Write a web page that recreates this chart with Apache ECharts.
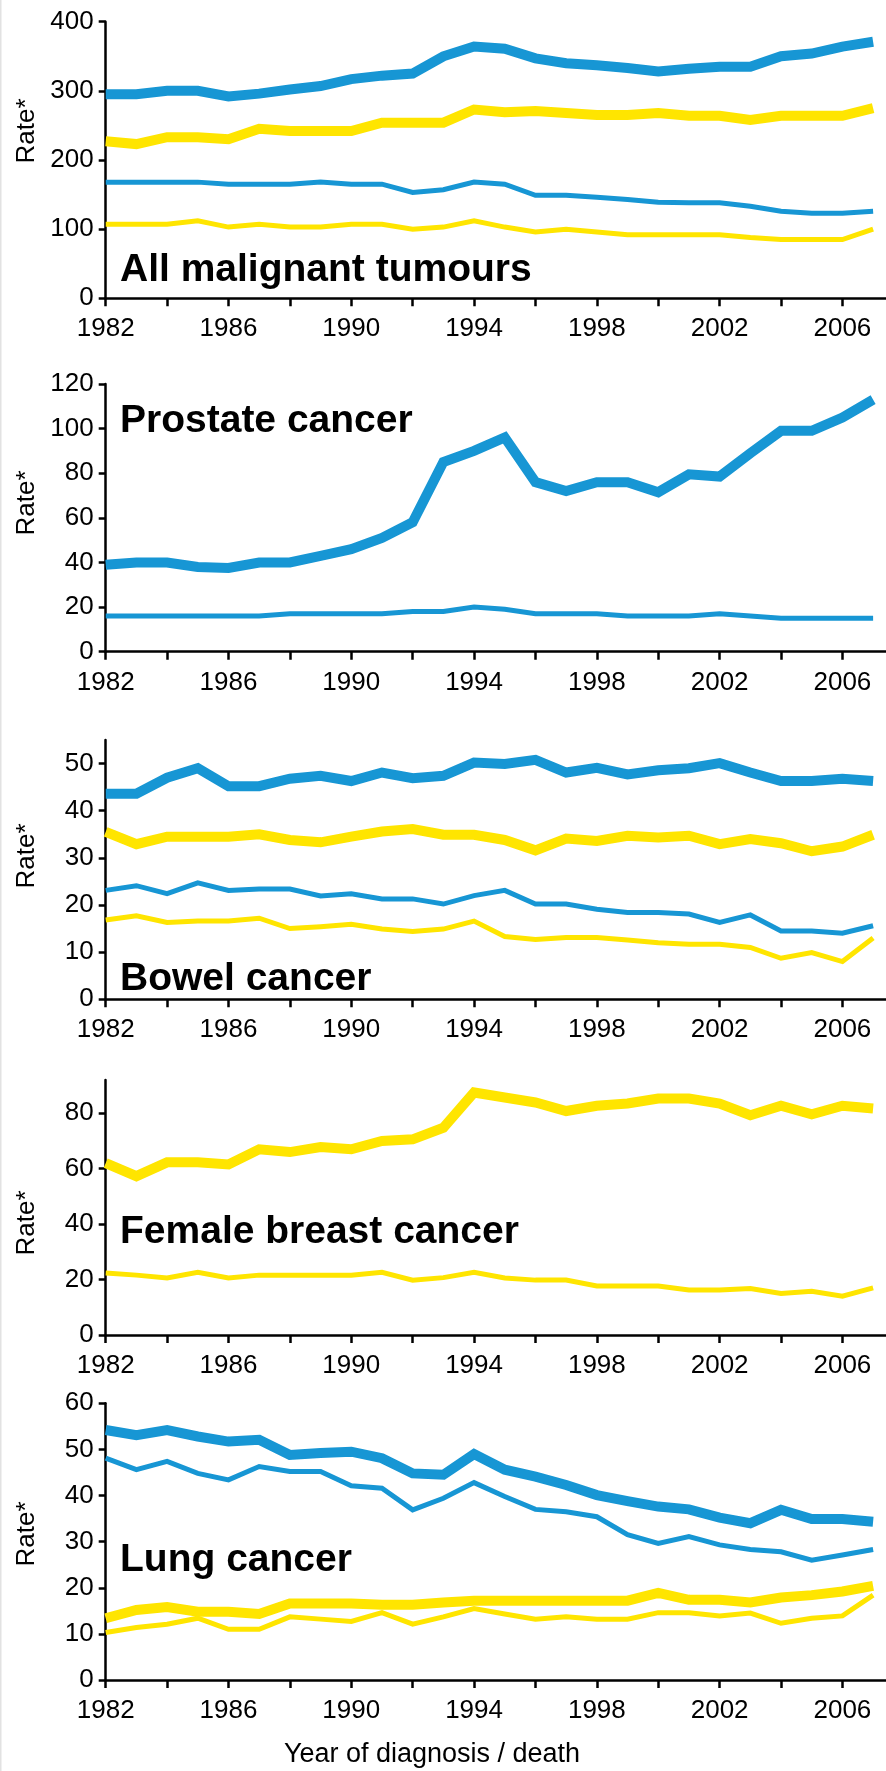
<!DOCTYPE html>
<html><head><meta charset="utf-8">
<script src="https://cdn.jsdelivr.net/npm/echarts@6/dist/echarts.min.js"></script>
<style>html,body{margin:0;padding:0;background:#fff}#c{width:886px;height:1771px}</style>
</head><body><div id="c"></div><script>
// ---------- DATA ----------
const years = [1982,1983,1984,1985,1986,1987,1988,1989,1990,1991,1992,1993,1994,1995,1996,1997,1998,1999,2000,2001,2002,2003,2004,2005,2006,2007];
const yearTicks = [1982,1984,1986,1988,1990,1992,1994,1996,1998,2000,2002,2004,2006];
const yearLabels = [1982,1986,1990,1994,1998,2002,2006];

const panelTitles = ['All malignant tumours','Prostate cancer','Bowel cancer','Female breast cancer','Lung cancer'];
const yTicksAll = [0,100,200,300,400];
const yTicksProstate = [0,20,40,60,80,100,120];
const yTicksBowel = [0,10,20,30,40,50];
const yTicksBreast = [0,20,40,60,80];
const yTicksLung = [0,10,20,30,40,50,60];

const allMaleInc   = [295,295,300,300,292,296,302,307,317,322,325,350,364,361,347,340,337,333,328,332,335,335,350,354,364,371];
const allFemaleInc = [227,223,233,233,230,245,242,242,242,254,254,254,273,269,271,268,265,265,268,264,264,258,264,264,264,275];
const allMaleMort  = [168,168,168,168,165,165,165,168,165,165,153,157,168,165,149,149,146,143,139,138,138,133,126,123,123,126];
const allFemaleMort= [107,107,107,112,103,107,103,103,107,107,100,103,112,103,96,100,96,92,92,92,92,88,85,85,85,100];

const prostateInc  = [39,40,40,38,37.5,40,40,43,46,51,58,85,90,96,76,72,76,76,71.5,79.5,78.5,89,99,99,105,113];
const prostateMort = [16,16,16,16,16,16,17,17,17,17,18,18,20,19,17,17,17,16,16,16,17,16,15,15,15,15];

const bowelMaleInc    = [43.6,43.6,47,49,45.2,45.2,46.8,47.4,46.3,48.1,46.9,47.4,50.2,49.9,50.8,48.1,49.1,47.7,48.6,49,50.1,48.1,46.3,46.3,46.8,46.3];
const bowelFemaleInc  = [35.5,32.9,34.5,34.5,34.5,35,33.8,33.3,34.5,35.6,36.1,34.9,34.9,33.8,31.6,34.1,33.6,34.7,34.3,34.7,32.9,34,33.1,31.4,32.4,34.9];
const bowelMaleMort   = [23.1,24.1,22.4,24.7,23.1,23.4,23.4,21.9,22.4,21.3,21.3,20.2,22,23.1,20.2,20.2,19.1,18.4,18.4,18.1,16.3,17.9,14.5,14.5,14,15.6];
const bowelFemaleMort = [16.8,17.7,16.3,16.6,16.6,17.2,15,15.4,15.9,14.9,14.4,14.9,16.6,13.3,12.7,13.1,13.1,12.6,12,11.7,11.7,11,8.7,9.9,8,13];

const breastInc  = [62,57.3,62.3,62.3,61.5,67,66,67.8,67,70,70.6,74.8,87.5,85.7,83.9,80.8,82.7,83.5,85.3,85.3,83.5,79.3,82.7,79.6,82.7,81.7];
const breastMort = [22.4,21.6,20.6,22.6,20.6,21.6,21.6,21.6,21.6,22.6,19.8,20.7,22.6,20.6,19.8,19.8,17.7,17.7,17.7,16.2,16.2,16.8,15,15.8,14,17];

const lungMaleInc    = [54.2,53.1,54.2,52.8,51.7,52.1,48.8,49.2,49.5,48.1,44.8,44.5,49,45.6,44.1,42.3,40.1,38.8,37.6,37,35.2,34,36.9,34.9,34.9,34.3];
const lungMaleMort   = [48.1,45.6,47.4,44.8,43.4,46.3,45.2,45.2,42.1,41.6,36.9,39.4,42.8,39.8,37,36.5,35.4,31.5,29.6,31.1,29.3,28.3,27.8,26,27.1,28.3];
const lungFemaleInc  = [13.4,15.2,15.8,14.8,14.8,14.3,16.6,16.6,16.6,16.3,16.3,16.8,17.2,17.2,17.2,17.2,17.2,17.2,18.9,17.4,17.4,16.8,17.9,18.4,19.2,20.4];
const lungFemaleMort = [10.3,11.4,12.1,13.4,11,11,13.7,13.2,12.7,14.6,12.1,13.7,15.5,14.3,13.2,13.7,13.2,13.2,14.6,14.6,13.9,14.5,12.3,13.4,13.9,18.4];

const yAxisName = 'Rate*';
const xAxisName = 'Year of diagnosis / death';

// ---------- STYLE / LAYOUT ----------
const BLUE = '#1796d4', YELLOW = '#ffe500';
const FONT = '"Liberation Sans", Arial, Helvetica, sans-serif';
const THICK = 10, THIN = 5;
const gridLeft = 105.7, gridWidth = 780.3;
const layout = [
  {top: 21.7,  height: 276.6, max: 400, ticks: yTicksAll,      titleY: 283, rateY: 131},
  {top: 384,   height: 267.7, max: 120, ticks: yTicksProstate, titleY: 434, rateY: 503},
  {top: 740,   height: 259.3, max: 55,  ticks: yTicksBowel,    titleY: 992, rateY: 856},
  {top: 1080,  height: 255,   max: 92,  ticks: yTicksBreast,   titleY: 1245, rateY: 1223},
  {top: 1403.3,height: 276.7, max: 60,  ticks: yTicksLung,     titleY: 1573, rateY: 1534}
];
const panelSeries = [
  [[allMaleInc,BLUE,THICK],[allFemaleInc,YELLOW,THICK],[allMaleMort,BLUE,THIN],[allFemaleMort,YELLOW,THIN]],
  [[prostateInc,BLUE,THICK],[prostateMort,BLUE,THIN]],
  [[bowelMaleInc,BLUE,THICK],[bowelFemaleInc,YELLOW,THICK],[bowelMaleMort,BLUE,THIN],[bowelFemaleMort,YELLOW,THIN]],
  [[breastInc,YELLOW,THICK],[breastMort,YELLOW,THIN]],
  [[lungMaleInc,BLUE,THICK],[lungMaleMort,BLUE,THIN],[lungFemaleInc,YELLOW,THICK],[lungFemaleMort,YELLOW,THIN]]
];

const axisLineStyle = {color:'#000', width:2.5};
const grid = [], xAxis = [], yAxis = [], series = [], graphic = [];
layout.forEach((L, i) => {
  grid.push({left: gridLeft, width: gridWidth, top: L.top, height: L.height, containLabel: false});
  xAxis.push({
    type:'value', gridIndex:i, min:1982, max:2007.42,
    axisLine:{show:true, onZero:false, lineStyle:axisLineStyle},
    axisTick:{show:true, length:8, lineStyle:axisLineStyle, customValues: yearTicks},
    axisLabel:{show:true, customValues: yearLabels, margin:18, fontSize:26, fontFamily:FONT, color:'#000', formatter: v => String(v)},
    splitLine:{show:false}
  });
  yAxis.push({
    type:'value', gridIndex:i, min:0, max:L.max,
    axisLine:{show:true, onZero:false, lineStyle:axisLineStyle},
    axisTick:{show:true, length:7, lineStyle:axisLineStyle, customValues: L.ticks},
    axisLabel:{show:true, customValues: L.ticks, margin:12, fontSize:26, fontFamily:FONT, color:'#000', formatter: v => String(v)},
    splitLine:{show:false}
  });
  panelSeries[i].forEach(([vals, color, w]) => {
    series.push({
      type:'line', xAxisIndex:i, yAxisIndex:i, symbol:'none', silent:true, clip:false,
      data: years.map((y, k) => [y, vals[k]]),
      lineStyle:{color: color, width: w, join:'miter', cap:'butt'},
      z: w === THICK ? 2 : 3
    });
  });
  graphic.push({type:'text', left: 120, top: L.titleY - 32, z: 10,
    style:{text: panelTitles[i], font: 'bold 39px ' + FONT, fill:'#000'}});
  graphic.push({type:'text', x: 27, y: L.rateY, rotation: Math.PI/2, z: 10,
    style:{text: yAxisName, font: '26px ' + FONT, fill:'#000', align:'center', verticalAlign:'middle'}});
});
graphic.push({type:'text', x: 432, y: 1755, z: 10,
  style:{text: xAxisName, font: '27px ' + FONT, fill:'#000', align:'center', verticalAlign:'middle'}});
graphic.push({type:'rect', shape:{x:0, y:0, width:1.5, height:1771}, style:{fill:'#e2e2e2'}});

const chart = echarts.init(document.getElementById('c'), null, {renderer:'canvas'});
chart.setOption({animation:false, backgroundColor:'#fff', grid, xAxis, yAxis, series, graphic});
</script></body></html>
